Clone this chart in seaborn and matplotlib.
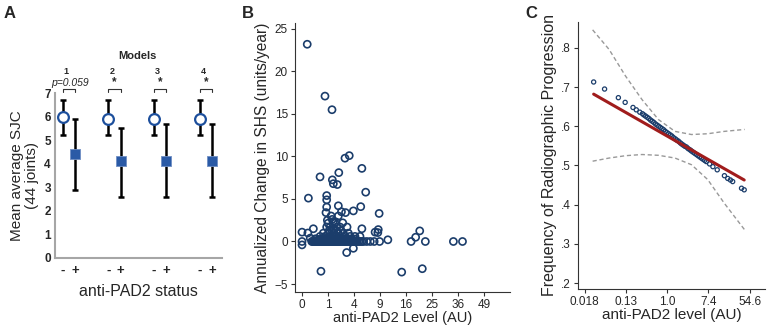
import numpy as np
import pandas as pd
import matplotlib
matplotlib.use('Agg')
import matplotlib.pyplot as plt
import seaborn as sns

# ---- Panel A: mean average SJC by anti-PAD2 status, 4 models ----
models = ['1', '2', '3', '4']
neg_mean = [6.0, 5.9, 5.9, 5.9]
neg_lo = [5.2, 5.2, 5.2, 5.2]
neg_hi = [6.7, 6.7, 6.7, 6.7]
pos_mean = [4.4, 4.1, 4.1, 4.1]
pos_lo = [2.9, 2.6, 2.6, 2.6]
pos_hi = [5.9, 5.5, 5.7, 5.7]
sig_labels = ['p=0.059', '*', '*', '*']

# ---- Panel B: annualized change in SHS vs anti-PAD2 level ----
shs_x = [0.04, 0.78, 1.33, 3.3, 2.73, 5.3, 2.0, 0.48, 1.36, 1.45, 1.84, 6.0, 0.06, 0.9, 0.9,
         0.9, 1.95, 5.1, 0.85, 2.3, 2.8, 3.9, 8.8, 1.25, 1.95, 1.45, 1.0, 1.6, 0.9, 1.16,
         1.78, 2.14, 3.0, 0.19, 0.0, 0.05, 5.3, 7.9, 8.6, 8.5, 0.67, 1.02, 1.45, 1.95, 2.52,
         3.17, 0.48, 0.78, 1.16, 1.6, 2.14, 2.74, 3.41, 4.15, 4.97, 0.1, 0.25, 0.0, 0.0,
         10.9, 7.7, 8.9, 17.6, 19.1, 20.5, 22.5, 33.9, 38.1, 21.4, 14.7, 0.53, 2.95, 3.9,
         0.14, 0.17, 0.2, 0.24, 0.28, 0.32, 0.36, 0.4, 0.45, 0.5, 0.55, 0.6, 0.66, 0.72,
         0.78, 0.85, 0.92, 1.0, 1.08, 1.16, 1.25, 1.34, 1.44, 1.54, 1.65, 1.76, 1.88, 2.0,
         2.13, 2.27, 2.41, 2.56, 2.72, 2.88, 3.05, 3.23, 3.42, 3.62, 3.83, 4.05, 4.28, 4.52,
         4.77, 5.03, 5.3, 5.6, 6.2, 6.9, 0.3, 0.42, 0.58, 0.72, 0.88, 1.05, 1.22, 1.42, 1.62,
         1.85, 2.1, 2.35, 2.65, 2.95, 3.3, 3.7, 4.2, 1.1, 1.3, 1.5, 1.75, 2.2, 0.95, 1.35,
         1.7, 2.45]
shs_y = [23.2, 17.1, 15.5, 10.1, 9.8, 8.6, 8.1, 7.6, 7.25, 6.8, 6.7, 5.8, 5.1, 5.4, 4.9,
         4.05, 4.2, 4.1, 3.4, 3.5, 3.4, 3.6, 3.3, 3.0, 3.0, 2.35, 2.15, 2.15, 1.7, 1.7,
         1.7, 1.7, 1.7, 1.5, 1.1, 1.0, 1.5, 1.1, 1.4, 1.05, 0.98, 0.98, 0.98, 0.98, 0.98,
         0.98, 0.6, 0.6, 0.6, 0.6, 0.6, 0.6, 0.6, 0.6, 0.6, 0.4, 0.3, 0.0, -0.4,
         0.2, 0.0, 0.0, 0.0, 0.5, 1.25, 0.0, 0.0, 0.0, -3.2, -3.6, -3.5, -1.3, -0.8,
         0.0, 0.0, 0.0, 0.0, 0.0, 0.0, 0.0, 0.0, 0.0, 0.0, 0.0, 0.0, 0.0, 0.0,
         0.0, 0.0, 0.0, 0.0, 0.0, 0.0, 0.0, 0.0, 0.0, 0.0, 0.0, 0.0, 0.0, 0.0,
         0.0, 0.0, 0.0, 0.0, 0.0, 0.0, 0.0, 0.0, 0.0, 0.0, 0.0, 0.0, 0.0, 0.0,
         0.0, 0.0, 0.0, 0.0, 0.0, 0.0, 0.3, 0.25, 0.3, 0.35, 0.3, 0.3, 0.35, 0.3, 0.3,
         0.3, 0.35, 0.3, 0.3, 0.3, 0.3, 0.3, 0.3, 1.3, 1.35, 1.3, 1.3, 1.25, 2.5, 2.6,
         2.3, 2.2]
shs_ticks = [0, 1, 4, 9, 16, 25, 36, 49]

# ---- Panel C: predicted frequency of progression vs log anti-PAD2 ----
pred_lnx = [-3.57, -3.04, -2.37, -2.04, -1.66, -1.50, -1.33, -1.20, -1.13, -1.05, -0.97,
            -0.89, -0.81, -0.73, -0.65, -0.57, -0.49, -0.41, -0.33, -0.25, -0.17, -0.09,
            -0.01, 0.07, 0.15, 0.23, 0.31, 0.39, 0.46, 0.55, 0.63, 0.70, 0.78, 0.86, 0.94,
            1.02, 1.11, 1.18, 1.26, 1.34, 1.42, 1.50, 1.58, 1.66, 1.74, 1.82, 1.90, 2.06,
            2.22, 2.43, 2.78, 2.94, 3.07, 3.18, 3.61, 3.74]
pred_p = [0.713, 0.695, 0.673, 0.661, 0.648, 0.642, 0.636, 0.632, 0.629, 0.626, 0.623,
          0.620, 0.616, 0.613, 0.610, 0.606, 0.603, 0.600, 0.597, 0.594, 0.591, 0.587,
          0.584, 0.581, 0.578, 0.575, 0.571, 0.568, 0.565, 0.562, 0.558, 0.555, 0.552,
          0.549, 0.547, 0.543, 0.540, 0.537, 0.534, 0.531, 0.528, 0.525, 0.522, 0.519,
          0.516, 0.513, 0.510, 0.504, 0.497, 0.489, 0.474, 0.467, 0.463, 0.459, 0.442,
          0.438]
fit_lnx = [-3.57, 3.74]
fit_p = [0.682, 0.463]
ci_lnx = [-3.62, -2.82, -2.02, -1.22, -0.42, 0.38, 1.18, 1.97, 2.77, 3.76]
ci_upper = [0.846, 0.796, 0.728, 0.668, 0.617, 0.587, 0.579, 0.581, 0.587, 0.592]
ci_lower = [0.511, 0.519, 0.525, 0.528, 0.526, 0.519, 0.502, 0.464, 0.404, 0.336]
c_ticks = [-4, -2, 0, 2, 4]
c_ticklabels = ['0.018', '0.13', '1.0', '7.4', '54.6']

sns.set_theme(style='white')
plt.rcParams['font.family'] = ['Liberation Sans', 'DejaVu Sans']

W, H = 768, 328
fig = plt.figure(figsize=(W / 100, H / 100), dpi=100)

def box(l, r, t, b):
    return [l / W, (H - b) / H, (r - l) / W, (b - t) / H]

blue = '#1d4f9c'
dark = '#1b3d6b'

# ================= A =================
axA = fig.add_axes(box(55, 222, 93, 258))
gap = 0.27
xneg = np.arange(len(models), dtype=float)
xpos = xneg + gap
dfA = pd.DataFrame({'x': np.r_[xneg, xpos], 'y': neg_mean + pos_mean,
                    'status': ['-'] * 4 + ['+'] * 4})
axA.errorbar(xneg, neg_mean, yerr=[np.array(neg_mean) - neg_lo, np.array(neg_hi) - neg_mean],
             fmt='none', ecolor='black', elinewidth=1.8, capsize=2.5, capthick=1.8, zorder=2)
axA.errorbar(xpos, pos_mean, yerr=[np.array(pos_mean) - pos_lo, np.array(pos_hi) - pos_mean],
             fmt='none', ecolor='black', elinewidth=1.8, capsize=2.5, capthick=1.8, zorder=2)
sns.scatterplot(data=dfA[dfA.status == '-'], x='x', y='y', ax=axA, marker='o', s=60,
                facecolor='white', edgecolor=blue, linewidth=1.6, zorder=3, legend=False)
sns.scatterplot(data=dfA[dfA.status == '+'], x='x', y='y', ax=axA, marker='s', s=42,
                color='#2a5aa6', edgecolor='#6f8fc4', linewidth=0.6, zorder=3, legend=False)
axA.set_xlim(-0.17, 3.49)
axA.set_ylim(0, 7)
axA.set_yticks(range(0, 8))
axA.set_yticklabels([str(i) for i in range(8)], fontsize=8.5, fontweight='bold')
axA.set_xticks(np.r_[xneg, xpos])
axA.set_xticklabels(['-'] * 4 + ['+'] * 4, fontsize=9.5, fontweight='bold')
axA.tick_params(axis='x', length=0, pad=5)
axA.tick_params(axis='y', length=2, color='#999999', pad=1)
for s in ['top', 'right']:
    axA.spines[s].set_visible(False)
for s in ['left', 'bottom']:
    axA.spines[s].set_color('#a6a6a6')
    axA.spines[s].set_linewidth(1.5)
axA.set_xlabel('anti-PAD2 status', fontsize=11.5, labelpad=5)
axA.set_ylabel('Mean average SJC\n(44 joints)', fontsize=11, labelpad=4, linespacing=1.1)
axA.text(1.63, 8.55, 'Models', ha='center', va='center', fontsize=8, fontweight='bold')
for i, m in enumerate(models):
    xc = xneg[i] + gap / 2
    axA.text(xc - 0.06, 7.9, m, ha='center', va='center', fontsize=6.5, fontweight='bold')
    axA.plot([xneg[i], xneg[i], xpos[i], xpos[i]], [7.03, 7.15, 7.15, 7.03],
             color='#333333', lw=0.8, clip_on=False)
    if sig_labels[i] == '*':
        axA.text(xc, 7.22, '*', ha='center', va='bottom', fontsize=8.5, fontweight='bold')
    else:
        axA.text(xc + 0.03, 7.2, sig_labels[i], ha='center', va='bottom', fontsize=7.5,
                 style='italic')

# ================= B =================
axB = fig.add_axes(box(295, 510, 23, 292))
dfB = pd.DataFrame({'pad2': shs_x, 'shs': shs_y})
axB.set_xscale('function', functions=(lambda v: np.sign(v) * np.sqrt(np.abs(v)),
                                      lambda v: np.sign(v) * v ** 2))
sns.scatterplot(data=dfB, x='pad2', y='shs', ax=axB, marker='o', s=26,
                facecolor='none', edgecolor=dark, linewidth=1.2, legend=False)
axB.set_xlim(-0.073, 64)
axB.set_ylim(-5.94, 25.7)
axB.set_xticks(shs_ticks)
axB.set_xticklabels([str(t) for t in shs_ticks])
axB.set_yticks([-5, 0, 5, 10, 15, 20, 25])
axB.tick_params(axis='both', labelsize=8.5, length=3, width=0.8, color='#333333',
                direction='out', pad=2, bottom=True, left=True)
axB.minorticks_off()
for s in ['top', 'right']:
    axB.spines[s].set_visible(False)
for s in ['left', 'bottom']:
    axB.spines[s].set_color('#333333')
    axB.spines[s].set_linewidth(0.8)
axB.set_xlabel('anti-PAD2 Level (AU)', fontsize=10.5, labelpad=0)
axB.set_ylabel('Annualized Change in SHS (units/year)', fontsize=11.2, labelpad=3)

# ================= C =================
axC = fig.add_axes(box(578, 765, 22, 289))
dfC = pd.DataFrame({'lnx': pred_lnx, 'p': pred_p})
sns.lineplot(x=ci_lnx, y=ci_upper, ax=axC, color='#999999', lw=1.0, linestyle=(0, (3, 2)))
sns.lineplot(x=ci_lnx, y=ci_lower, ax=axC, color='#999999', lw=1.0, linestyle=(0, (3, 2)))
sns.scatterplot(data=dfC, x='lnx', y='p', ax=axC, marker='o', s=9, facecolor='none',
                edgecolor=dark, linewidth=0.9, legend=False, zorder=3)
sns.lineplot(x=fit_lnx, y=fit_p, ax=axC, color='#a01c1c', lw=2.2, zorder=4)
axC.set_xlim(-4.33, 4.75)
axC.set_ylim(0.185, 0.866)
axC.set_xticks(c_ticks)
axC.set_xticklabels(c_ticklabels)
axC.set_yticks([0.2, 0.3, 0.4, 0.5, 0.6, 0.7, 0.8])
axC.set_yticklabels(['.2', '.3', '.4', '.5', '.6', '.7', '.8'])
axC.tick_params(axis='both', labelsize=8.5, length=3, width=0.8, color='#333333',
                direction='out', pad=2, bottom=True, left=True)
for s in ['top', 'right']:
    axC.spines[s].set_visible(False)
for s in ['left', 'bottom']:
    axC.spines[s].set_color('#333333')
    axC.spines[s].set_linewidth(0.8)
axC.set_xlabel('anti-PAD2 level (AU)', fontsize=11, labelpad=0)
axC.set_ylabel('Frequency of Radiographic Progression', fontsize=11.5, labelpad=3)

# panel letters
for lab, xp in [('A', 10), ('B', 248), ('C', 531)]:
    fig.text(xp / W, 1 - 13 / H, lab, fontsize=12, fontweight='bold', ha='center', va='center')

fig.savefig('out.png', dpi=100)
